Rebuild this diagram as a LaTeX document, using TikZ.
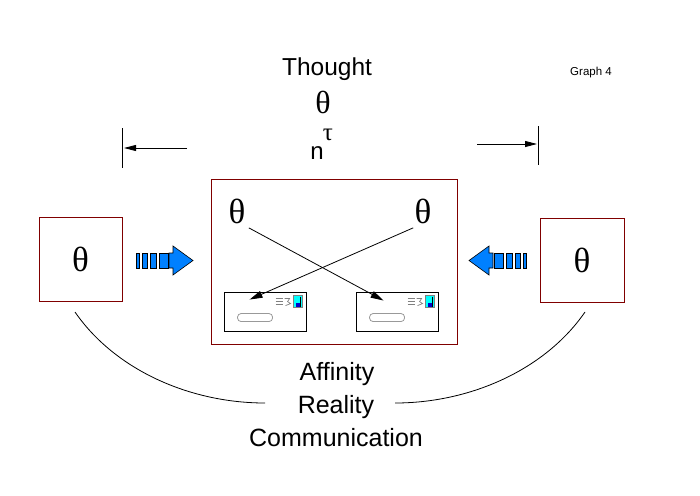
\documentclass[tikz,border=0pt]{standalone}
\usepackage{fontspec}
\setmainfont{Liberation Sans}
\newfontfamily\grkfont{Liberation Serif}
\usetikzlibrary{arrows.meta,calc}
\definecolor{boxred}{RGB}{128,0,0}
\definecolor{arrblue}{RGB}{0,128,255}
\definecolor{stampcyan}{RGB}{0,255,255}
\definecolor{stampblue}{RGB}{0,0,200}
\begin{document}
\begin{tikzpicture}[x=1pt,y=-1pt,line width=0.9pt,
  framebox/.style={draw=boxred,line width=0.9pt,inner sep=0pt,fill=none},
  envbox/.style={draw=black,line width=0.9pt,inner sep=0pt,minimum width=82pt,minimum height=39pt},
  grk/.style={inner sep=0pt,font=\grkfont\fontsize{35}{40}\selectfont},
  lbl/.style={inner sep=0pt,font=\fontsize{25}{30}\selectfont},
  connarrow/.style={line width=0.8pt,-{Triangle[length=13pt,width=7pt]}},
  dimarrow/.style={line width=0.9pt,-{Triangle[length=12pt,width=6pt]}},
  bluebar/.style={draw=black,line width=0.6pt,fill=arrblue},
  envdetail/.pic={
    \draw[gray!80,line width=0.8pt,rounded corners=3.5pt] (14,22) rectangle (49,30);
    \draw[gray,line width=0.7pt] (52,7) -- (59,7) (52,10) -- (59,10) (52,13) -- (59,13);
    \draw[gray,line width=0.7pt] (61,7) -- (66,7) -- (64,10) -- (67,12) -- (62,14);
    \draw[gray,line width=0.8pt,fill=stampcyan] (70,4) rectangle (79,16);
    \fill[stampblue] (72,11) rectangle (77,15);
    \draw[black,line width=1pt] (77,5) -- (77,15);
  }
]
\useasboundingbox (0,0) rectangle (700,495);

% boxes
\node[framebox,minimum width=83pt,minimum height=84pt] (lbox) at (80.5,259) {};
\node[framebox,minimum width=84pt,minimum height=84pt] (rbox) at (582,260) {};
\node[framebox,minimum width=246pt,minimum height=165pt] (cbox) at (334,261.5) {};
\node[grk] (lth) at (lbox.center) {θ};
\node[grk] (rth) at (rbox.center) {θ};

% inner thetas and envelopes
\node[grk] (th1) at (237,211) {θ};
\node[grk] (th2) at (423,211) {θ};
\node[envbox] (env1) at (265,311.5) {};
\node[envbox] (env2) at (397,311.5) {};
\pic at (env1.north west) {envdetail};
\pic at (env2.north west) {envdetail};

\coordinate (s1) at ($(th1.south east)+(3,4)$);
\coordinate (e1) at ($(env2.north west)+(28,9)$);
\coordinate (s2) at ($(th2.south west)+(-1,4)$);
\coordinate (e2) at ($(env1.north west)+(26,8)$);
\draw[connarrow] (s1) -- (e1);
\draw[connarrow] (s2) -- (e2);

% blue arrow, pointing right
\draw[bluebar] (136,253) rectangle (139,268);
\draw[bluebar] (142,253) rectangle (147,268);
\draw[bluebar] (150,253) rectangle (156,268);
\draw[bluebar] (159,253) rectangle (168,268);
\draw[bluebar] (169,253) -- (173,253) -- (173,246) -- (193,260.5) -- (173,275) -- (173,268) -- (169,268) -- cycle;
% blue arrow, pointing left
\draw[bluebar] (526,253) rectangle (523,268);
\draw[bluebar] (520,253) rectangle (515,268);
\draw[bluebar] (512,253) rectangle (506,268);
\draw[bluebar] (503,253) rectangle (494,268);
\draw[bluebar] (493,253) -- (489,253) -- (489,246) -- (469,260.5) -- (489,275) -- (489,268) -- (493,268) -- cycle;

% top labels
\node[inner sep=0pt,anchor=base,font=\fontsize{24.5}{29}\selectfont] (thought) at (327,75) {Thought};
\node[inner sep=0pt,font=\grkfont\fontsize{32}{36}\selectfont] (thtop) at (323,102) {θ};
\node[inner sep=0pt,anchor=base,font=\fontsize{24}{28}\selectfont] (nn) at (317,159) {n};
\node[inner sep=0pt,font=\grkfont\fontsize{25}{30}\selectfont] (tau) at (328,135) {τ};
\node[inner sep=0pt,anchor=base,font=\fontsize{11.5}{14}\selectfont] (graph) at (591,75) {Graph 4};

% dimension marks
\coordinate (lbt) at (122,128); \coordinate (lbb) at (122,168);
\draw (lbt) -- (lbb);
\coordinate (la) at (187,148); \coordinate (lat) at (124,148);
\draw[dimarrow] (la) -- (lat);
\coordinate (rbt) at (538,126); \coordinate (rbb) at (538,165);
\draw (rbt) -- (rbb);
\coordinate (ra) at (477,144); \coordinate (rat) at (537,144);
\draw[dimarrow] (ra) -- (rat);

% bottom labels
\node[lbl,anchor=base] (aff) at (337,380) {Affinity};
\node[lbl,anchor=base] (real) at (336,413) {Reality};
\node[lbl,anchor=base] (comm) at (336,446) {Communication};

% arcs
\coordinate (cl1) at (75,312); \coordinate (cl2) at (265,403);
\draw[line width=0.8pt] (cl1) .. controls (115,370) and (190,403) .. (cl2);
\coordinate (cr1) at (395,403); \coordinate (cr2) at (585,312);
\draw[line width=0.8pt] (cr1) .. controls (470,403) and (545,370) .. (cr2);
\end{tikzpicture}
\end{document}
